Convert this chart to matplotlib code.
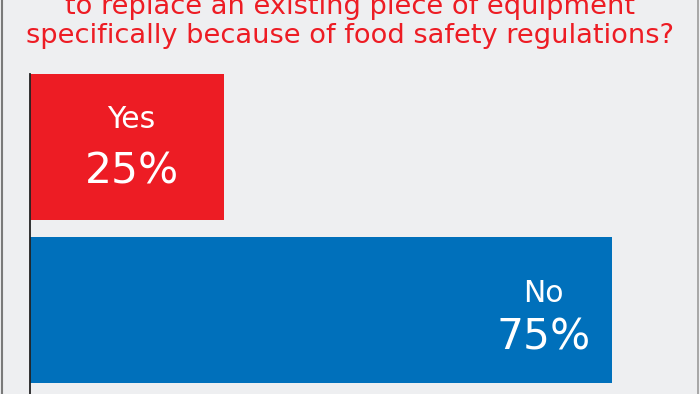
import matplotlib.pyplot as plt
from matplotlib.lines import Line2D

# Poll answers (percent of respondents)
ANSWERS = ["Yes", "No"]
SHARES = [25, 75]
COLORS = ["#ed1c24", "#0070bb"]
TITLE_LINES = ["to replace an existing piece of equipment",
               "specifically because of food safety regulations?"]

BG = "#eeeff1"
RED = "#ed1c24"
FONT = "DejaVu Sans"

fig = plt.figure(figsize=(7.0, 3.94), dpi=100, facecolor=BG)
ax = fig.add_axes([30 / 700, 0, 670 / 700, 320 / 394])
ax.set_facecolor(BG)

# 0 % sits at x=30 px, 7.76 px per percent; 163 px between bar centres
ax.set_xlim(0, 670 / 7.76)
ax.set_ylim(-84 / 163, 1 + 73 / 163)
ypos = [1, 0]
ax.barh(ypos, SHARES, height=146 / 163, color=COLORS)

# label placement: (x centre in %, name baseline, value baseline) per bar
LAYOUT = [(lambda v: v / 2 + 0.6, 0.117, -0.221),
          (lambda v: v - 8.8, 0.049, -0.245)]
for y, name, v, (fx, dn, dv) in zip(ypos, ANSWERS, SHARES, LAYOUT):
    xc = fx(v)
    ax.text(xc, y + dn, name, ha="center", va="baseline", color="white",
            fontsize=21.5, family=FONT)
    ax.text(xc, y + dv, f"{v}%", ha="center", va="baseline", color="white",
            fontsize=30.5, family=FONT)

for s in ("top", "right", "bottom"):
    ax.spines[s].set_visible(False)
ax.spines["left"].set_color("#222222")
ax.spines["left"].set_linewidth(1.3)
ax.set_xticks([])
ax.set_yticks([])

# title, first line clipped by the top edge
fig.text(0.5, 1 - 13.5 / 394, TITLE_LINES[0], ha="center", va="baseline",
         color=RED, fontsize=19.6, family=FONT)
fig.text(0.5, 1 - 43 / 394, TITLE_LINES[1], ha="center", va="baseline",
         color=RED, fontsize=19.6, family=FONT)

# outer frame lines
fig.add_artist(Line2D([1.5 / 700, 1.5 / 700], [0, 1], color="#7a7a7a", lw=1.5))
fig.add_artist(Line2D([697.5 / 700, 697.5 / 700], [0, 1], color="#9a9a9a", lw=1.2))

fig.savefig("out.png", dpi=100, facecolor=BG)
